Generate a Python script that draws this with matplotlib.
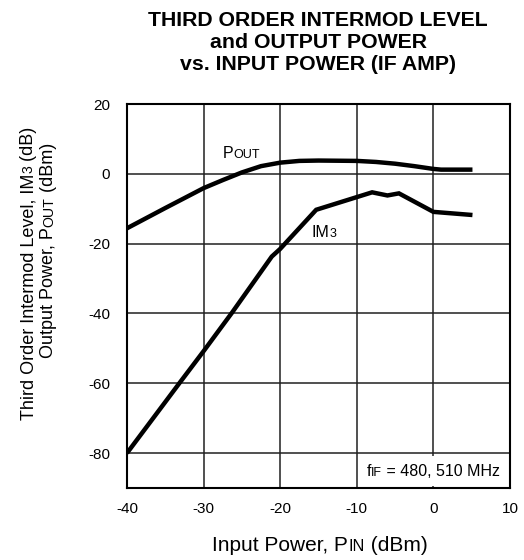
import matplotlib.pyplot as plt
from matplotlib.patches import Rectangle
from matplotlib.transforms import IdentityTransform

plt.rcParams['font.family'] = ['Liberation Sans', 'DejaVu Sans']
plt.rcParams['axes.unicode_minus'] = False

# output power vs input power (dBm)
pin_pout = [-40, -35, -30, -27.5, -25, -22.5, -20, -17.5, -15, -10, -7.5, -5, -2.5, 0, 1, 5.1]
pout = [-15.6, -9.8, -4.1, -1.8, 0.4, 2.2, 3.2, 3.7, 3.8, 3.7, 3.4, 2.9, 2.2, 1.4, 1.2, 1.2]

# third order intermod level vs input power
pin_im3 = [-40, -33, -30, -26.3, -21.1, -20, -15.3, -8, -6, -4.5, 0, 5.1]
im3 = [-80, -59.5, -50.8, -39.8, -23.7, -21.5, -10.3, -5.3, -6.2, -5.6, -10.9, -11.8]

x_ticks = [-40, -30, -20, -10, 0, 10]
y_ticks = [-80, -60, -40, -20, 0, 20]

W, H = 524, 560
fig = plt.figure(figsize=(W / 100, H / 100), dpi=100)
ax = fig.add_axes([127 / W, 1 - 488 / H, (510 - 127) / W, (488 - 104) / H])

ax.set_xlim(-40, 10)
ax.set_ylim(-90, 20)
ax.set_xticks(x_ticks)
ax.set_yticks(y_ticks)
ax.tick_params(length=0, labelsize=11)
ax.tick_params(axis='x', pad=10)
ax.tick_params(axis='y', pad=12)
ax.grid(True, color='#202020', linewidth=1.1)
ax.set_axisbelow(True)
for s in ax.spines.values():
    s.set_linewidth(1.5)

ax.plot(pin_pout, pout, color='black', linewidth=3.2, solid_capstyle='butt', zorder=3)
ax.plot(pin_im3, im3, color='black', linewidth=3.2, solid_capstyle='butt',
        solid_joinstyle='miter', zorder=3)

# white patch behind the frequency note
ax.add_patch(Rectangle((-6.2, -89.4), 15.6, 8.7, facecolor='white', edgecolor='none', zorder=1.5))

renderer = fig.canvas.get_renderer()


def rich_text(x, y, pieces, size, transform, rotation=0, ha='left', **kw):
    # pieces: (text, small) pairs, small ones drawn as small caps on the same baseline
    px, py = transform.transform((x, y))
    texts, lengths = [], []
    for s, small in pieces:
        t = fig.text(0, 0, s, fontsize=size * (0.78 if small else 1.0), rotation=rotation,
                     rotation_mode='anchor', ha='left', va='baseline',
                     transform=IdentityTransform(), zorder=5, **kw)
        bb = t.get_window_extent(renderer)
        texts.append(t)
        lengths.append(bb.height if rotation else bb.width)
    pos = -sum(lengths) / 2 if ha == 'center' else 0
    for t, L in zip(texts, lengths):
        if rotation:
            t.set_position((px, py + pos))
        else:
            t.set_position((px + pos, py))
        pos += L


rich_text(-27.5, 4.5, [('P', False), ('OUT', True)], 11.5, ax.transData)
rich_text(-15.85, -18.1, [('IM', False), ('3', True)], 11.5, ax.transData)
rich_text(-8.7, -86.6, [('f', False), ('IF', True), (' = 480, 510 MHz', False)], 11.5, ax.transData)

# axis labels
rich_text(320 / W, 1 - 551 / H, [('Input Power, P', False), ('IN', True), (' (dBm)', False)],
          15, fig.transFigure, ha='center')
rich_text(33 / W, 1 - 273 / H,
          [('Third Order Intermod Level, IM', False), ('3', True), (' (dB)', False)],
          13, fig.transFigure, rotation=90, ha='center')
rich_text(53 / W, 1 - 250 / H,
          [('Output Power, P', False), ('OUT', True), (' (dBm)', False)],
          13, fig.transFigure, rotation=90, ha='center')

# title
title_lines = ['THIRD ORDER INTERMOD LEVEL', 'and OUTPUT POWER', 'vs. INPUT POWER (IF AMP)']
for line, base in zip(title_lines, [26.5, 48, 69.5]):
    fig.text(318 / W, 1 - base / H, line, fontsize=15.3, fontweight='bold',
             ha='center', va='baseline')

fig.savefig('out.png', dpi=100, facecolor='white')
